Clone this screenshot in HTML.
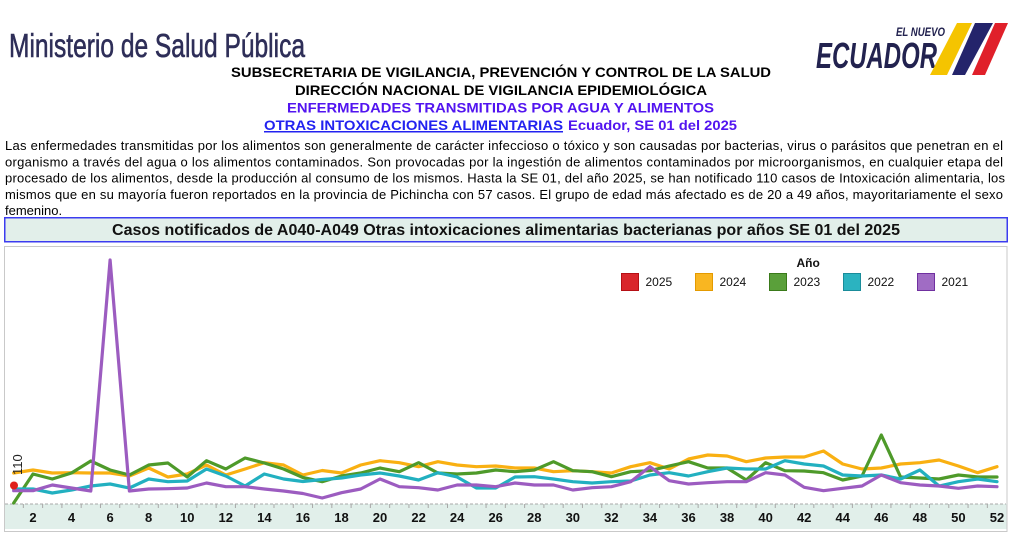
<!DOCTYPE html>
<html><head><meta charset="utf-8">
<style>
html,body{margin:0;padding:0;background:#fff;}
svg{display:block;}
text{font-family:"Liberation Sans",Arial,sans-serif;}
</style></head>
<body>
<svg width="1011" height="536" viewBox="0 0 1011 536" xmlns="http://www.w3.org/2000/svg">
<rect width="1011" height="536" fill="#fff"/>
<!-- Header left -->
<text x="9" y="57" font-size="33" fill="#2e2e58" stroke="#2e2e58" stroke-width="0.6" textLength="296" lengthAdjust="spacingAndGlyphs">Ministerio de Salud Pública</text>
<!-- Logo -->
<text x="896" y="36" font-size="12" font-weight="bold" font-style="italic" fill="#22224f" textLength="49" lengthAdjust="spacingAndGlyphs">EL NUEVO</text>
<text x="816" y="68" font-size="36" font-weight="bold" font-style="italic" fill="#22224f" textLength="121" lengthAdjust="spacingAndGlyphs">ECUADOR</text>
<polygon points="957,23 972,23 947,75 930,75" fill="#f5c400"/>
<polygon points="975,23 993,23 965,75 952,75" fill="#24246b"/>
<polygon points="995,23 1008,23 985,75 972,75" fill="#e0202a"/>
<!-- Header titles -->
<text x="231" y="77" font-size="14" font-weight="bold" fill="#000" textLength="540" lengthAdjust="spacingAndGlyphs">SUBSECRETARIA DE VIGILANCIA, PREVENCIÓN Y CONTROL DE LA SALUD</text>
<text x="295" y="95" font-size="14" font-weight="bold" fill="#000" textLength="412" lengthAdjust="spacingAndGlyphs">DIRECCIÓN NACIONAL DE VIGILANCIA EPIDEMIOLÓGICA</text>
<text x="287" y="112.5" font-size="14" font-weight="bold" fill="#5214f0" textLength="427" lengthAdjust="spacingAndGlyphs">ENFERMEDADES TRANSMITIDAS POR AGUA Y ALIMENTOS</text>
<text x="264" y="130" font-size="14" font-weight="bold" fill="#2222f0" textLength="299" lengthAdjust="spacingAndGlyphs">OTRAS INTOXICACIONES ALIMENTARIAS</text>
<rect x="264" y="131" width="299" height="1.5" fill="#2222f0"/>
<text x="568" y="130" font-size="14" font-weight="bold" fill="#5214f0" textLength="169" lengthAdjust="spacingAndGlyphs">Ecuador, SE 01 del 2025</text>
<!-- Paragraph -->
<g font-size="13" fill="#000">
<text x="5" y="150" textLength="998" lengthAdjust="spacing">Las enfermedades transmitidas por los alimentos son generalmente de carácter infeccioso o tóxico y son causadas por bacterias, virus o parásitos que penetran en el</text>
<text x="5" y="166.3" textLength="998" lengthAdjust="spacing">organismo a través del agua o los alimentos contaminados. Son provocadas por la ingestión de alimentos contaminados por microorganismos, en cualquier etapa del</text>
<text x="5" y="182.6" textLength="1000" lengthAdjust="spacing">procesado de los alimentos, desde la producción al consumo de los mismos. Hasta la SE 01, del año 2025, se han notificado 110 casos de Intoxicación alimentaria, los</text>
<text x="5" y="198.9" textLength="998" lengthAdjust="spacing">mismos que en su mayoría fueron reportados en la provincia de Pichincha con 57 casos. El grupo de edad más afectado es de 20 a 49 años, mayoritariamente el sexo</text>
<text x="5" y="215">femenino.</text>
</g>
<!-- Chart title box -->
<rect x="4.75" y="217.75" width="1002.5" height="24" fill="#e2efea" stroke="#3c3cf0" stroke-width="1.5"/>
<text x="112" y="235" font-size="16" font-weight="bold" fill="#111" textLength="788" lengthAdjust="spacingAndGlyphs">Casos notificados de A040-A049 Otras intoxicaciones alimentarias bacterianas por años SE 01 del 2025</text>
<!-- Chart frame -->
<rect x="4.5" y="246.5" width="1002.5" height="285" fill="#fff" stroke="#c9c9c9" stroke-width="1"/>
<rect x="5" y="504" width="1001.5" height="25" fill="#e1efea"/>
<line x1="5" y1="504" x2="1006" y2="504" stroke="#a8a8a8" stroke-width="1" stroke-dasharray="3,2"/>
<g id="ticks" stroke="#a8a8a8" stroke-width="1"></g>
<g id="xlabels" font-size="13" font-weight="bold" fill="#111" text-anchor="middle"></g>
<!-- Legend -->
<text x="796.5" y="267" font-size="12" font-weight="bold" fill="#111">Año</text>
<g font-size="12" fill="#111">
<rect x="621.5" y="273.5" width="17" height="17" fill="#d9262b" stroke="#b51015"/>
<text x="645.5" y="286">2025</text>
<rect x="695.5" y="273.5" width="17" height="17" fill="#f9b621" stroke="#e49a00"/>
<text x="719.5" y="286">2024</text>
<rect x="769.5" y="273.5" width="17" height="17" fill="#5aa03a" stroke="#3a7a1a"/>
<text x="793.5" y="286">2023</text>
<rect x="843.5" y="273.5" width="17" height="17" fill="#2bb3c0" stroke="#1a8c9a"/>
<text x="867.5" y="286">2022</text>
<rect x="917.5" y="273.5" width="17" height="17" fill="#a06cc4" stroke="#7030a0"/>
<text x="941.5" y="286">2021</text>
</g>
<g id="series" fill="none" stroke-width="3.2" stroke-linejoin="round" stroke-linecap="round"></g>
<circle cx="14" cy="485.5" r="4" fill="#e0201c"/>
<text transform="translate(22,475) rotate(-90)" font-size="13" fill="#222">110</text>
<script>
(function(){
var NS="http://www.w3.org/2000/svg";
function X(w){return 13.7+(w-1)*19.28;}
var ticks=document.getElementById("ticks");
for(var w=1;w<52;w++){var l=document.createElementNS(NS,"line");var x=X(w)+9.64;l.setAttribute("x1",x);l.setAttribute("x2",x);l.setAttribute("y1",504);l.setAttribute("y2",508);ticks.appendChild(l);}
var xl=document.getElementById("xlabels");
for(var w=2;w<=52;w+=2){var t=document.createElementNS(NS,"text");t.setAttribute("x",X(w));t.setAttribute("y",522);t.textContent=String(w);xl.appendChild(t);}
var data={
"#f9b012":[473,470,473,472.7,473,473,476,468,477,474,465,475,469,462.7,465,475,470.5,473,465,460.7,462.7,466.7,461.7,465,466.7,466,468,468,471.7,470.7,471.7,473,466.7,462.7,469,459,455,456,461.7,458,457,457,451,464,469,468,464,462.7,460,466,472.7,466.7],
"#4e9a2a":[503,474,479,473,461,470,475,465,463,477,460.7,469,458,463,469,477.5,481.7,476,473,468,471.7,462.7,473,474,473,470,471.7,470,461.7,470.7,471.7,476.7,471.7,470.7,466,461.7,468,468,480,462.7,470.7,471,472.7,480,476,435,477,478,479,475,477,477],
"#22b0c0":[489,489,493,490,486,484,488,479,481.7,481,469,476,486,474,479,481.5,479.5,478,475,473,476,480,472.7,477,488,488,477,476.7,479,481.7,483,481.7,481,475,472.7,476,471.7,468,469,469,460.7,464,466,475,476,475,479,470,486,481.7,479,481.7],
"#9c5cc0":[490.7,490.7,485,488,491,260,491,489,488.7,488,483,486.7,486.7,489,491,493.5,498,492.7,489,479,486.7,487.7,490,485,485,486.7,483,485,485,490,487.7,486.7,481.7,466.7,480.7,484,482.7,481.7,481.7,472.7,475,487.3,490.7,488.3,486,475,482.7,485,486,488.3,486,486.7]
};
var g=document.getElementById("series");
for(var c in data){var p=data[c].map(function(y,i){return X(i+1).toFixed(1)+","+y;}).join(" ");var pl=document.createElementNS(NS,"polyline");pl.setAttribute("points",p);pl.setAttribute("stroke",c);g.appendChild(pl);}
})();
</script>
</svg>
</body></html>
